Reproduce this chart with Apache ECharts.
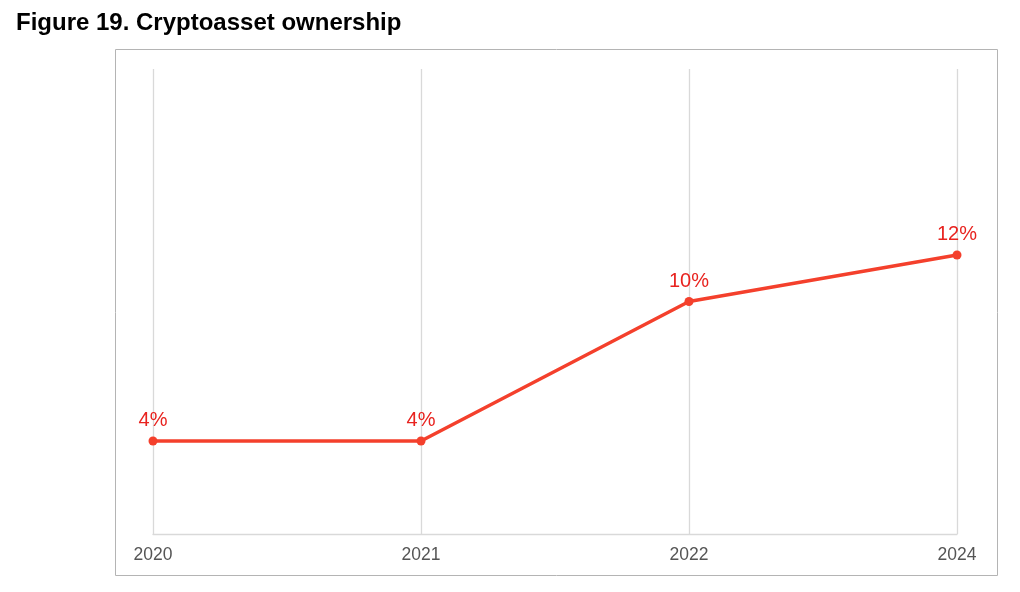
<!DOCTYPE html>
<html>
<head>
<meta charset="utf-8">
<script src="https://cdn.jsdelivr.net/npm/echarts@6/dist/echarts.min.js"></script>
<style>
  html, body { margin: 0; padding: 0; background: #fff; }
  .chart { width: 1020px; height: 592px; }
</style>
</head>
<body>
<div class="chart"></div>
<script>
// 数据
var years = ['2020', '2021', '2022', '2024'];
var ownership = [4, 4, 10, 12];

var myChart = echarts.init(document.querySelector('.chart'));

var option = {
  animation: false,
  title: {
    text: 'Figure 19. Cryptoasset ownership',
    left: 11,
    top: 6,
    textStyle: {
      fontFamily: 'Liberation Sans, Arial, sans-serif',
      fontWeight: 'bold',
      fontSize: 24,
      color: '#000'
    }
  },
  graphic: [{
    type: 'rect',
    shape: { x: 115.5, y: 49.5, width: 882, height: 526 },
    style: { fill: 'none', stroke: '#b4b4b4', lineWidth: 1 },
    z: -1
  }],
  grid: { left: 153, right: 63, top: 69, bottom: 58 },
  xAxis: {
    type: 'category',
    data: years,
    boundaryGap: false,
    axisLine: { lineStyle: { color: '#d9d9d9', width: 1.3 } },
    axisTick: { show: false },
    splitLine: { show: true, lineStyle: { color: '#d9d9d9', width: 1.3 } },
    axisLabel: {
      color: '#555',
      fontSize: 17.5,
      fontFamily: 'Liberation Sans, Arial, sans-serif',
      margin: 12
    }
  },
  yAxis: {
    type: 'value',
    min: 0,
    max: 20,
    show: false
  },
  series: [{
    type: 'line',
    data: ownership,
    symbol: 'circle',
    symbolSize: 9,
    lineStyle: { color: '#f4402c', width: 3.5 },
    itemStyle: { color: '#f4402c' },
    label: {
      show: true,
      position: 'top',
      distance: 6,
      formatter: '{c}%',
      color: '#e8231f',
      fontSize: 20,
      fontFamily: 'Liberation Sans, Arial, sans-serif'
    }
  }]
};

myChart.setOption(option);
</script>
</body>
</html>
